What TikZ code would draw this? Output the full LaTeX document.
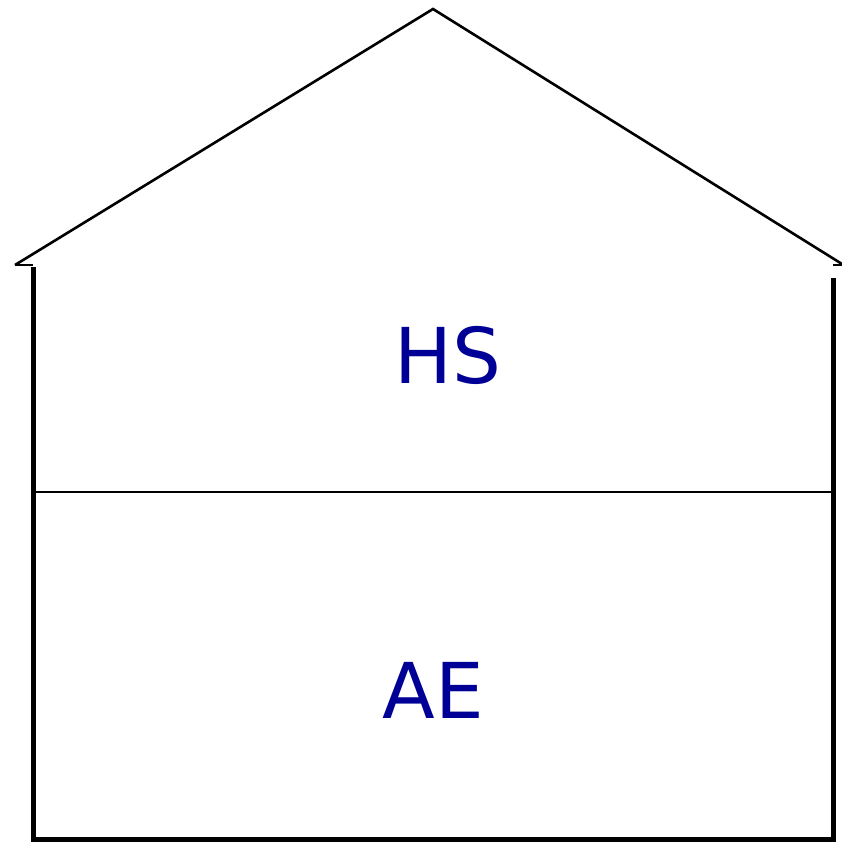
\documentclass[tikz,border=0pt]{standalone}
\usepackage{fontspec}
\setmainfont{DejaVu Sans}
\definecolor{labelblue}{RGB}{0,0,150}
\begin{document}
\begin{tikzpicture}[x=1pt,y=-1pt,
  thinline/.style={line width=2.6pt,black},
  thickline/.style={line width=5pt,black},
  lbl/.style={text=labelblue,font=\fontsize{77}{80}\selectfont,inner sep=0pt}]
\useasboundingbox (0,0) rectangle (842,841);
\coordinate (rl) at (15,265);
\coordinate (apex) at (433,9);
\coordinate (rr) at (842,264);
\coordinate (tl) at (33,265);
\coordinate (tr) at (833,265);
\coordinate (wl) at (33,267);
\coordinate (wr) at (833,278);
\coordinate (bl) at (33,839);
\coordinate (br) at (833,839);
\coordinate (ml) at (33,492);
\coordinate (mr) at (833,492);
\draw[thinline] (rl) -- (apex) -- (rr);
\draw[thinline] (rl) -- (tl);
\draw[thinline] (tr) -- (842,265);
\draw[thickline] (wl) -- (bl) -- (br) -- (wr);
\draw[thinline] (ml) -- (mr);
\node[lbl] (hs) at (448,355) {HS};
\node[lbl] (ae) at (433,690) {AE};
\end{tikzpicture}
\end{document}
